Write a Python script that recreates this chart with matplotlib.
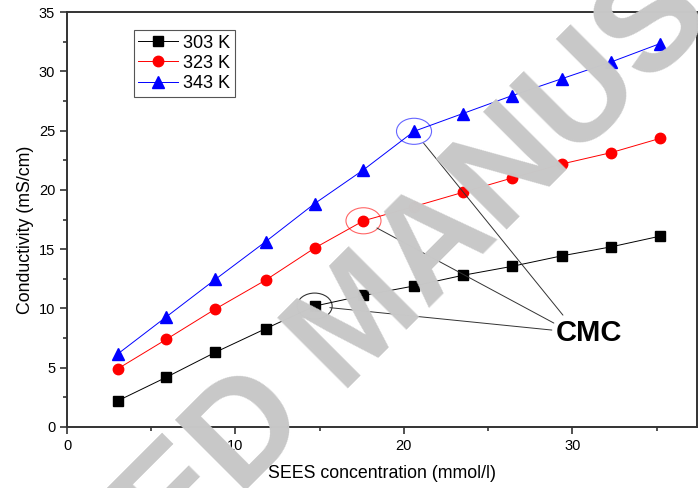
import numpy as np
import matplotlib
matplotlib.use('Agg')
import matplotlib.pyplot as plt
from matplotlib.patches import Ellipse
from matplotlib.ticker import MultipleLocator

plt.rcParams['font.family'] = ['Liberation Sans', 'DejaVu Sans']

# SEES concentration (mmol/l)
conc = [3.0, 5.9, 8.8, 11.8, 14.7, 17.6, 20.6, 23.5, 26.4, 29.4, 32.3, 35.2]
# conductivity (mS/cm)
k303 = [2.2, 4.2, 6.3, 8.3, 10.2, 11.1, 11.9, 12.8, 13.55, 14.45, 15.2, 16.1]
k323 = [4.9, 7.4, 9.95, 12.4, 15.1, 17.4, 18.6, 19.8, 21.0, 22.2, 23.15, 24.35]
k343 = [6.15, 9.3, 12.45, 15.65, 18.85, 21.7, 24.95, 26.45, 27.95, 29.4, 30.8, 32.35]
labels = ['303 K', '323 K', '343 K']
cmc_idx = [4, 5, 6]

fig = plt.figure(figsize=(6.98, 4.88), dpi=100)
ax = fig.add_axes([0.096, 0.125, 0.9026, 0.85])

# watermark
fig.text(0.516, 0.338, 'ACCEPTED MANUSCRIPT', fontsize=104, fontweight='bold',
         color='#c8c8c8', rotation=45, rotation_mode='anchor',
         ha='center', va='center', zorder=0)
ax.set_facecolor('none')

series = [(k303, 'black', 's', 6.5), (k323, 'red', 'o', 7.5), (k343, 'blue', '^', 8)]
ell_cols = ['#333333', '#ff6666', '#6666ff']
for (y, c, m, ms), lab in zip(series, labels):
    ax.plot(conc, y, color=c, lw=0.7, marker=m, ms=ms, mec=c, mfc=c, label=lab)

# CMC markers and pointer lines
text_xy = (31.0, 7.95)
ends = [(28.78, 8.18), (28.9, 8.77), (29.44, 9.44)]
for (y, c, m, ms), i, ec, e in zip(series, cmc_idx, ell_cols, ends):
    ax.add_patch(Ellipse((conc[i], y[i]), 2.08, 2.2, fill=False, ec=ec, lw=0.8))
    ax.annotate('', xy=(conc[i], y[i]), xytext=e,
                arrowprops=dict(arrowstyle='-', color='#333333', lw=0.7,
                                shrinkA=0, shrinkB=11))
ax.text(*text_xy, 'CMC', fontsize=21, fontweight='bold', ha='center', va='center')

ax.set_xlim(0, 37.4)
ax.set_ylim(0, 35)
ax.xaxis.set_major_locator(MultipleLocator(10))
ax.xaxis.set_minor_locator(MultipleLocator(5))
ax.yaxis.set_major_locator(MultipleLocator(5))
ax.yaxis.set_minor_locator(MultipleLocator(2.5))
ax.tick_params(which='major', direction='out', length=5, width=1.2, labelsize=10.5,
               colors='#333333', labelcolor='black')
ax.tick_params(which='minor', direction='out', length=3, width=1.2, colors='#333333')
for s in ax.spines.values():
    s.set_color('#333333')
    s.set_linewidth(1.4)

ax.set_xlabel('SEES concentration (mmol/l)', fontsize=12.8)
ax.set_ylabel('Conductivity (mS/cm)', fontsize=12.8)
ax.xaxis.set_label_coords(0.5, -0.092)
ax.yaxis.set_label_coords(-0.052, 0.475)

leg = ax.legend(loc='upper left', bbox_to_anchor=(0.106, 0.957), fontsize=13,
                fancybox=False, edgecolor='#555555', framealpha=1,
                borderpad=0.25, labelspacing=0.18, handlelength=2.2,
                handletextpad=0.3, borderaxespad=0)
leg.get_frame().set_linewidth(0.8)

fig.savefig('out.png', dpi=100)
